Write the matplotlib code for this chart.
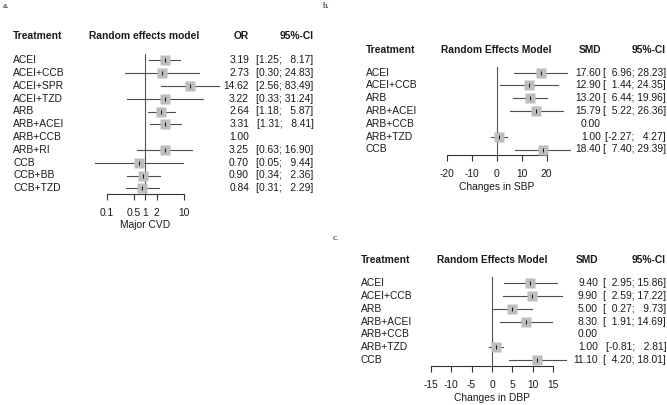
import matplotlib
matplotlib.use("Agg")
import matplotlib.pyplot as plt
from matplotlib.transforms import blended_transform_factory

plt.rcParams['font.family'] = ['Liberation Sans', 'DejaVu Sans']

W, H = 667, 405

# panel a: major CVD, odds ratios
a_treat = ["ACEI", "ACEI+CCB", "ACEI+SPR", "ACEI+TZD", "ARB", "ARB+ACEI",
           "ARB+CCB", "ARB+RI", "CCB", "CCB+BB", "CCB+TZD"]
a_est = [3.19, 2.73, 14.62, 3.22, 2.64, 3.31, 1.00, 3.25, 0.70, 0.90, 0.84]
a_lo = [1.25, 0.30, 2.56, 0.33, 1.18, 1.31, None, 0.63, 0.05, 0.34, 0.31]
a_hi = [8.17, 24.83, 83.49, 31.24, 5.87, 8.41, None, 16.90, 9.44, 2.36, 2.29]
a_ticks = [0.1, 0.5, 1, 2, 10]

# panel b: changes in SBP
b_treat = ["ACEI", "ACEI+CCB", "ARB", "ARB+ACEI", "ARB+CCB", "ARB+TZD", "CCB"]
b_est = [17.60, 12.90, 13.20, 15.79, 0.00, 1.00, 18.40]
b_lo = [6.96, 1.44, 6.44, 5.22, None, -2.27, 7.40]
b_hi = [28.23, 24.35, 19.96, 26.36, None, 4.27, 29.39]
b_ticks = [-20, -10, 0, 10, 20]

# panel c: changes in DBP
c_treat = ["ACEI", "ACEI+CCB", "ARB", "ARB+ACEI", "ARB+CCB", "ARB+TZD", "CCB"]
c_est = [9.40, 9.90, 5.00, 8.30, 0.00, 1.00, 11.10]
c_lo = [2.95, 2.59, 0.27, 1.91, None, -0.81, 4.20]
c_hi = [15.86, 17.22, 9.73, 14.69, None, 2.81, 18.01]
c_ticks = [-15, -10, -5, 0, 5, 10, 15]

FS = 7.4
TXT = '#1a1a1a'

fig = plt.figure(figsize=(W / 100, H / 100), dpi=100)


def fx(x):
    return x / W


def fy(y):
    return 1 - y / H


def pad(v, w):
    # two spaces are about one digit wide in Helvetica-like fonts
    s = "%.2f" % v
    return "  " * max(0, w - len(s)) + s


def forest(treat, est, lo, hi, ticks, log, xlim, xpx, y0, dy, base, vtop,
           cols, hdr_y, model, stat, xlabel, lab_y, box, w_lo, w_hi):
    n = len(treat)
    top = y0 - dy
    ax = fig.add_axes([fx(xpx[0]), fy(base), fx(xpx[1] - xpx[0]), (base - top) / H])
    if log:
        ax.set_xscale('log')
    ax.set_xlim(xlim)
    ax.set_ylim((base - y0) / dy, -1)
    for s in ['top', 'right', 'left']:
        ax.spines[s].set_visible(False)
    ax.spines['bottom'].set_linewidth(0.8)
    ax.spines['bottom'].set_color('#333333')
    ax.set_yticks([])
    ax.set_xticks(ticks)
    ax.set_xticklabels([("%g" % t) for t in ticks])
    ax.minorticks_off()
    ax.tick_params(axis='x', direction='out', length=4, width=0.8, color='#333333',
                   labelsize=FS, labelcolor=TXT, pad=6)
    ax.patch.set_visible(False)

    ref = 1 if log else 0
    ax.plot([ref, ref], [(vtop - y0) / dy, (base - y0) / dy], color='#555555',
            lw=0.8, clip_on=False, zorder=1)

    for i in range(n):
        if lo[i] is None:
            continue
        ax.plot([lo[i], hi[i]], [i, i], color='#4d4d4d', lw=0.8, clip_on=False, zorder=2)
        ax.plot(est[i], i, marker='s', ms=box, color='#bdbdbd', mec='none',
                clip_on=False, zorder=3)
        ax.plot(est[i], i, marker='|', ms=3, mew=0.7, color='#111111',
                clip_on=False, zorder=4)

    tr = blended_transform_factory(fig.transFigure, ax.transData)
    for i in range(n):
        ax.text(fx(cols[0]), i, treat[i], transform=tr, ha='left', va='center',
                fontsize=FS, color=TXT)
        ax.text(fx(cols[2]), i, "%.2f" % est[i], transform=tr, ha='right',
                va='center', fontsize=FS, color=TXT)
        if lo[i] is not None:
            s = "[" + pad(lo[i], w_lo) + "; " + pad(hi[i], w_hi) + "]"
            ax.text(fx(cols[3]), i, s, transform=tr, ha='right', va='center',
                    fontsize=FS, color=TXT)

    hy = fy(hdr_y)
    fig.text(fx(cols[0]), hy, "Treatment", ha='left', va='center', fontsize=FS,
             fontweight='bold', color=TXT)
    fig.text(fx(cols[1]), hy, model, ha='center', va='center', fontsize=FS,
             fontweight='bold', color=TXT)
    fig.text(fx(cols[2]), hy, stat, ha='right', va='center', fontsize=FS,
             fontweight='bold', color=TXT)
    fig.text(fx(cols[3]), hy, "95%-CI", ha='right', va='center', fontsize=FS,
             fontweight='bold', color=TXT)
    fig.text(fx((xpx[0] + xpx[1]) / 2), fy(lab_y), xlabel, ha='center', va='center',
             fontsize=FS, color=TXT)
    return ax


forest(a_treat, a_est, a_lo, a_hi, a_ticks, True, (0.1, 10), (106.7, 183.7),
       60.3, 12.8, 194, 53.5, (13, 144, 249, 313.5), 36,
       "Random effects model", "OR", "Major CVD", 225, 6.5, 4, 5)

forest(b_treat, b_est, b_lo, b_hi, b_ticks, False, (-20, 20), (446.7, 546.7),
       72.7, 12.8, 155, 66.7, (365.5, 496, 601, 666), 50,
       "Random Effects Model", "SMD", "Changes in SBP", 186.7, 7, 5, 5)

forest(c_treat, c_est, c_lo, c_hi, c_ticks, False, (-15, 15), (430.7, 553.3),
       283.3, 12.78, 365.7, 276.7, (360.7, 492, 598, 666), 260,
       "Random Effects Model", "SMD", "Changes in DBP", 398, 7, 5, 5)

for lab, x, y in [("a.", 3, 6), ("b.", 323, 6), ("c.", 333, 238)]:
    fig.text(fx(x), fy(y), lab, ha='left', va='center', fontsize=6.5,
             family=['Liberation Serif', 'DejaVu Serif'], color=TXT)

fig.savefig("out.png", dpi=100)
